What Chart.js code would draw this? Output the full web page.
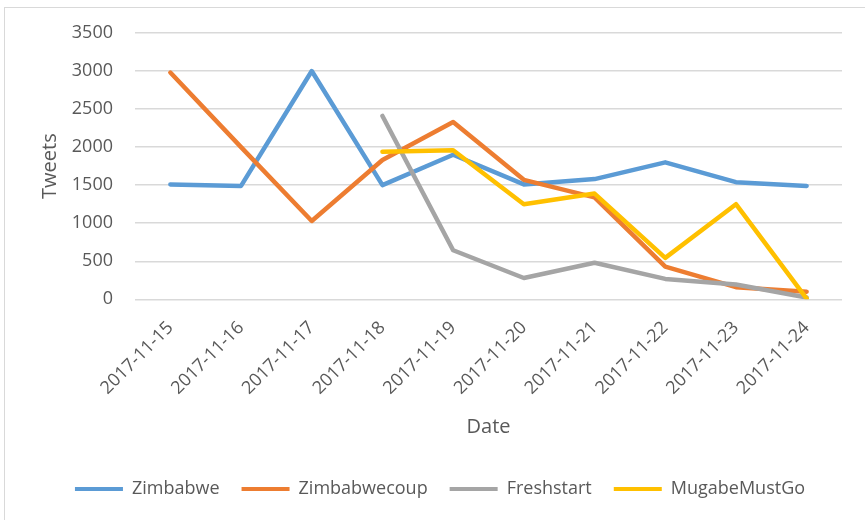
<!DOCTYPE html>
<html>
<head>
<meta charset="utf-8">
<script src="https://cdn.jsdelivr.net/npm/chart.js@4/dist/chart.umd.min.js"></script>
<style>
  html, body { margin: 0; padding: 0; background: #fff; }
  #wrap { position: relative; width: 865px; height: 520px; overflow: hidden; }
  #frame { position: absolute; left: 4px; top: 7px; width: 900px; height: 560px;
           border-left: 1.5px solid #d9d9d9; border-top: 1.5px solid #d9d9d9; }
  canvas { position: absolute; left: 0; top: 0; }
</style>
</head>
<body>
<div id="wrap">
  <div id="frame"></div>
  <canvas id="chart" width="865" height="520"></canvas>
</div>
<script>
const dates = ['2017-11-15', '2017-11-16', '2017-11-17', '2017-11-18', '2017-11-19',
               '2017-11-20', '2017-11-21', '2017-11-22', '2017-11-23', '2017-11-24'];
const zimbabwe     = [1510, 1490, 3000, 1500, 1900, 1510, 1580, 1800, 1540, 1490];
const zimbabwecoup = [2980, 2000, 1030, 1830, 2330, 1570, 1340, 430, 160, 100];
const freshstart   = [null, null, null, 2410, 645, 280, 480, 268, 195, 25];
const mugabeMustGo = [null, null, null, 1940, 1960, 1250, 1390, 545, 1250, 10];

const textColor = '#595959';
const font = 'Open Sans';

const makeSet = (label, data, color, order) => ({
  label: label,
  data: data,
  borderColor: color,
  backgroundColor: color,
  borderWidth: 4.5,
  pointRadius: 0,
  tension: 0,
  borderCapStyle: 'round',
  borderJoinStyle: 'round',
  order: order
});

new Chart(document.getElementById('chart'), {
  type: 'line',
  data: {
    labels: dates,
    datasets: [
      makeSet('Zimbabwe', zimbabwe, '#5B9BD5', 3),
      makeSet('Zimbabwecoup', zimbabwecoup, '#ED7D31', 2),
      makeSet('Freshstart', freshstart, '#A5A5A5', 1),
      makeSet('MugabeMustGo', mugabeMustGo, '#FFC000', 0)
    ]
  },
  options: {
    responsive: false,
    animation: false,
    layout: { padding: { left: 38, right: 23, top: 33, bottom: 12 } },
    plugins: {
      tooltip: { enabled: false },
      legend: {
        position: 'bottom',
        labels: {
          color: textColor,
          font: { family: font, size: 18 },
          boxWidth: 48,
          boxHeight: 4,
          padding: 22,
          sort: (a, b) => a.datasetIndex - b.datasetIndex,
          generateLabels: chart => chart.data.datasets.map((ds, i) => ({
            text: ds.label,
            fillStyle: ds.borderColor,
            strokeStyle: ds.borderColor,
            lineWidth: 0,
            fontColor: textColor,
            datasetIndex: i
          }))
        }
      }
    },
    scales: {
      x: {
        offset: true,
        grid: { display: false },
        border: { display: false },
        ticks: {
          color: textColor,
          font: { family: font, size: 18 },
          minRotation: 45,
          maxRotation: 45,
          padding: 10
        },
        title: {
          display: true,
          text: 'Date',
          color: textColor,
          font: { family: font, size: 20 },
          padding: { top: 6, bottom: 19 }
        }
      },
      y: {
        min: 0,
        max: 3500,
        afterFit: scale => { scale.width = 97; },
        grid: { color: '#d9d9d9', lineWidth: 1.5, drawTicks: false },
        border: { display: false },
        ticks: {
          stepSize: 500,
          color: textColor,
          font: { family: font, size: 18 },
          padding: 22,
          callback: value => String(value)
        },
        title: {
          display: true,
          text: 'Tweets',
          color: textColor,
          font: { family: font, size: 20 },
          padding: { top: 0, bottom: 0 }
        }
      }
    }
  }
});
</script>
</body>
</html>
